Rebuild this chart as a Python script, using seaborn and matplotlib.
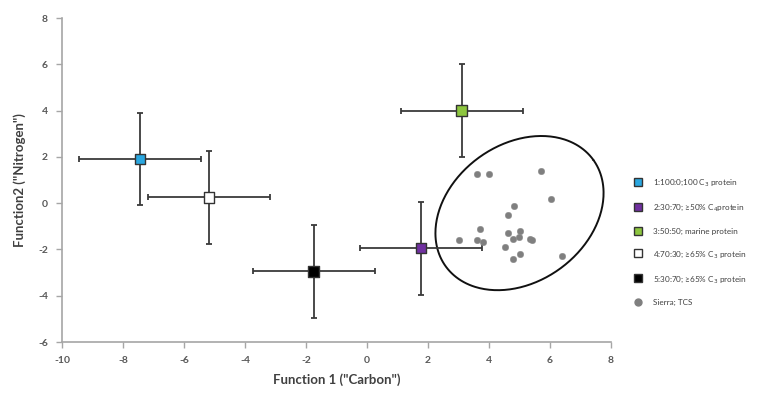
import numpy as np
import pandas as pd
import matplotlib
matplotlib.use("Agg")
import matplotlib.pyplot as plt
from matplotlib.lines import Line2D
import seaborn as sns

# ---- data ----
group_labels = ["1:100:0;100 C$_3$ protein",
                "2:30:70; \u226550% C$_4$protein",
                "3:50:50; marine protein",
                "4:70:30; \u226565% C$_3$ protein",
                "5:30:70; \u226565% C$_3$ protein"]
group_x = [-7.45, 1.77, 3.1, -5.18, -1.75]
group_y = [1.9, -1.95, 4.0, 0.25, -2.95]
group_xerr = [2, 2, 2, 2, 2]
group_yerr = [2, 2, 2, 2, 2]
group_colors = ["#2AA7E0", "#7030A0", "#8DC63F", "#FFFFFF", "#000000"]

sierra_label = "Sierra; TCS"
sierra_x = [3.62, 4.01, 5.70, 6.02, 4.82, 4.61, 3.70, 3.03, 3.60, 3.81,
            4.61, 5.02, 4.80, 4.99, 5.34, 5.41, 4.51, 5.02, 4.80, 6.40]
sierra_y = [1.28, 1.28, 1.38, 0.19, -0.12, -0.52, -1.12, -1.60, -1.60, -1.70,
            -1.28, -1.20, -1.53, -1.46, -1.53, -1.60, -1.91, -2.20, -2.42, -2.29]

# ellipse: center and two half-axis vectors (data units)
ell_center = [5.0, -0.43]
ell_u = [2.42, 2.30]
ell_v = [-1.32, 2.41]

x_ticks = [-10, -8, -6, -4, -2, 0, 2, 4, 6, 8]
y_ticks = [-6, -4, -2, 0, 2, 4, 6, 8]

# ---- plot ----
sns.set_theme(style="white")
plt.rcParams['font.family'] = ['Lato', 'DejaVu Sans']

fig = plt.figure(figsize=(7.67, 3.95), dpi=100)
ax = fig.add_axes([62/767, 53/395, 549/767, 324/395])

tick_gray = "#595959"
err_col = "#3a3a3a"

# ellipse
t = np.linspace(0, 2*np.pi, 300)
ex = ell_center[0] + ell_u[0]*np.cos(t) + ell_v[0]*np.sin(t)
ey = ell_center[1] + ell_u[1]*np.cos(t) + ell_v[1]*np.sin(t)
ax.plot(ex, ey, color="#111111", lw=1.4, zorder=2)

# error bars
ax.errorbar(group_x, group_y, xerr=group_xerr, yerr=group_yerr, fmt="none",
            ecolor=err_col, elinewidth=1.3, capsize=2.5, capthick=1.3, zorder=3)

# sierra points
sdf = pd.DataFrame({"x": sierra_x, "y": sierra_y})
sns.scatterplot(data=sdf, x="x", y="y", ax=ax, color="#7f7f7f", s=22,
                marker="o", edgecolor="#8a8a8a", linewidth=0.3, zorder=4, legend=False)

# group squares
gdf = pd.DataFrame({"x": group_x, "y": group_y, "g": group_labels})
sns.scatterplot(data=gdf, x="x", y="y", hue="g", palette=group_colors,
                hue_order=group_labels, ax=ax, marker="s", s=55,
                edgecolor="#333333", linewidth=1.0, zorder=5, legend=False)

ax.set_xlim(-10, 8)
ax.set_ylim(-6, 8)
ax.set_xticks(x_ticks)
ax.set_yticks(y_ticks)
ax.set_xticklabels([str(v) for v in x_ticks], fontsize=7.5, color=tick_gray, fontweight="bold")
ax.set_yticklabels([str(v) for v in y_ticks], fontsize=7.5, color=tick_gray, fontweight="bold")
for s in ["top", "right"]:
    ax.spines[s].set_visible(False)
for s in ["left", "bottom"]:
    ax.spines[s].set_color("#a6a6a6")
    ax.spines[s].set_linewidth(1.2)
ax.tick_params(axis="both", which="both", length=4, width=1, color="#a6a6a6",
               direction="out", bottom=True, left=True, pad=6)
ax.set_xlabel('Function 1 ("Carbon")', fontsize=9.5, fontweight="bold",
              color="#404040", labelpad=6)
ax.set_ylabel('Function2 ("Nitrogen")', fontsize=9.5, fontweight="bold",
              color="#404040", labelpad=9)

# legend
handles = []
for lab, col in zip(group_labels, group_colors):
    handles.append(Line2D([], [], linestyle="none", marker="s", markersize=6,
                          markerfacecolor=col, markeredgecolor="#333333",
                          markeredgewidth=1.0, label=lab))
handles.append(Line2D([], [], linestyle="none", marker="o", markersize=5,
                      markerfacecolor="#7f7f7f", markeredgecolor="#7f7f7f",
                      label=sierra_label))
leg = fig.legend(handles=handles, loc="upper left", bbox_to_anchor=(631/767, 1 - 174/395),
                 frameon=False, fontsize=5.9, labelspacing=1.72, handletextpad=1.3,
                 handlelength=1.0, borderaxespad=0)
for txt in leg.get_texts():
    txt.set_color("#404040")

fig.savefig("out.png", dpi=100)
